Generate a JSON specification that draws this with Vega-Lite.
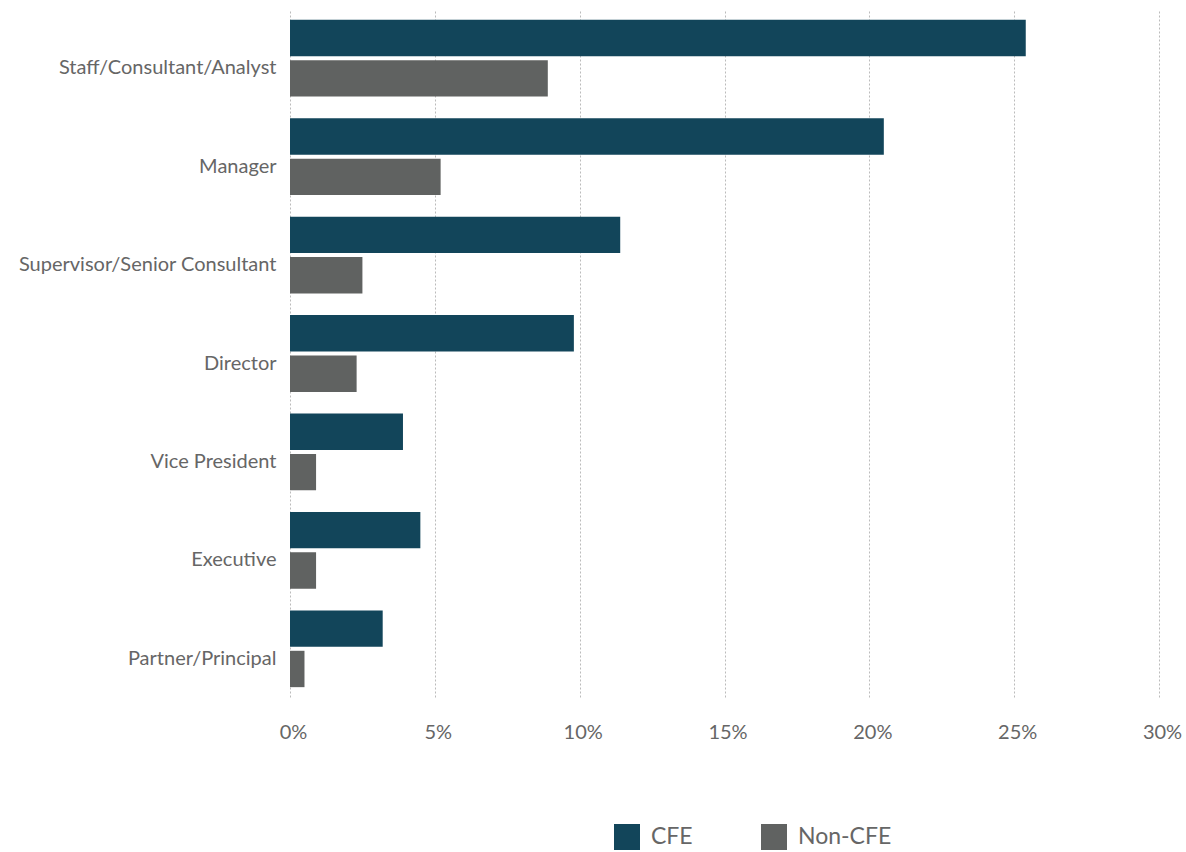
{
  "$schema": "https://vega.github.io/schema/vega-lite/v6.json",
  "width": 869,
  "height": 687,
  "autosize": {"type": "none"},
  "padding": {"left": 290, "top": 10, "right": 27, "bottom": 155},
  "background": "white",
  "data": {
    "values": [
      {"role": "Staff/Consultant/Analyst", "group": "CFE", "pct": 25.4},
      {"role": "Staff/Consultant/Analyst", "group": "Non-CFE", "pct": 8.9},
      {"role": "Manager", "group": "CFE", "pct": 20.5},
      {"role": "Manager", "group": "Non-CFE", "pct": 5.2},
      {"role": "Supervisor/Senior Consultant", "group": "CFE", "pct": 11.4},
      {"role": "Supervisor/Senior Consultant", "group": "Non-CFE", "pct": 2.5},
      {"role": "Director", "group": "CFE", "pct": 9.8},
      {"role": "Director", "group": "Non-CFE", "pct": 2.3},
      {"role": "Vice President", "group": "CFE", "pct": 3.9},
      {"role": "Vice President", "group": "Non-CFE", "pct": 0.9},
      {"role": "Executive", "group": "CFE", "pct": 4.5},
      {"role": "Executive", "group": "Non-CFE", "pct": 0.9},
      {"role": "Partner/Principal", "group": "CFE", "pct": 3.2},
      {"role": "Partner/Principal", "group": "Non-CFE", "pct": 0.5}
    ]
  },
  "mark": {"type": "bar"},
  "encoding": {
    "y": {
      "field": "role",
      "type": "nominal",
      "sort": null,
      "scale": {"paddingInner": 0.22, "paddingOuter": 0.1},
      "axis": {
        "title": null,
        "domain": false,
        "ticks": false,
        "labelFont": "Lato",
        "labelFontSize": 20,
        "labelColor": "#666666",
        "labelPadding": 14,
        "labelOffset": 10,
        "labelLimit": 400
      }
    },
    "yOffset": {
      "field": "group",
      "type": "nominal",
      "scale": {"paddingInner": 0.1}
    },
    "x": {
      "field": "pct",
      "type": "quantitative",
      "scale": {"domain": [0, 30], "nice": false},
      "axis": {
        "title": null,
        "values": [0, 5, 10, 15, 20, 25, 30],
        "labelExpr": "datum.value + '%'",
        "domain": false,
        "ticks": false,
        "grid": true,
        "gridColor": "#bbbbbb",
        "gridDash": [2, 2],
        "gridWidth": 1,
        "labelFont": "Lato",
        "labelFontSize": 20,
        "labelColor": "#666666",
        "labelPadding": 25,
        "labelOffset": 3,
        "labelFlush": false
      }
    },
    "color": {
      "field": "group",
      "type": "nominal",
      "scale": {"domain": ["CFE", "Non-CFE"], "range": ["#12455a", "#606261"]},
      "legend": {
        "title": null,
        "orient": "none",
        "legendX": 324,
        "legendY": 814,
        "direction": "horizontal",
        "symbolType": "square",
        "symbolSize": 676,
        "symbolStrokeWidth": 0,
        "symbolOpacity": 1,
        "labelFont": "Lato",
        "labelFontSize": 23,
        "labelColor": "#666666",
        "labelOffset": 11,
        "columnPadding": 68
      }
    }
  },
  "config": {"view": {"stroke": null}}
}
